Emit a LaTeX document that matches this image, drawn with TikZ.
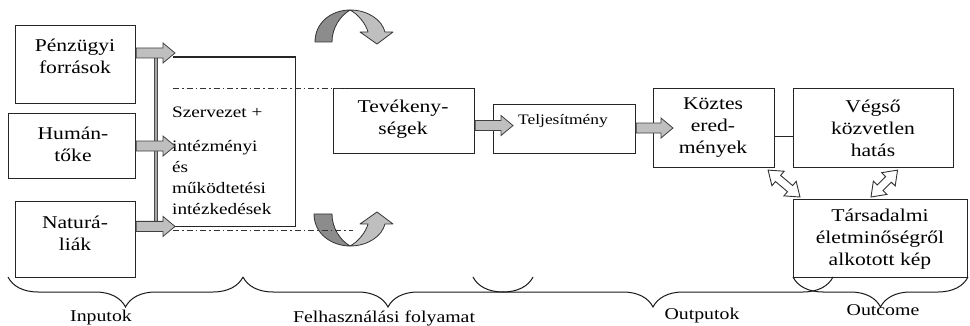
\documentclass[tikz,border=0pt]{standalone}
\usepackage{fontspec}
\setmainfont[FakeStretch=1.2]{Liberation Serif}
\usetikzlibrary{calc,decorations.pathreplacing}

% block arrow with one head, from #1 to #2
\newcommand{\blkarrow}[2]{%
  \coordinate (hb) at ($(#2)!12pt!(#1)$);
  \draw[blkarr] ($(#1)!5pt!90:(#2)$) -- ($(hb)!5pt!-90:(#1)$) -- ($(hb)!10pt!-90:(#1)$) -- (#2)
    -- ($(hb)!10pt!90:(#1)$) -- ($(hb)!5pt!90:(#1)$) -- ($(#1)!5pt!-90:(#2)$) -- cycle;}
% hollow arrow with two heads
\newcommand{\dblarrow}[2]{%
  \coordinate (ha) at ($(#1)!13pt!(#2)$);
  \coordinate (hb) at ($(#2)!13pt!(#1)$);
  \draw[dblarr] (#1) -- ($(ha)!9.5pt!90:(#2)$) -- ($(ha)!4pt!90:(#2)$) -- ($(hb)!4pt!-90:(#1)$)
    -- ($(hb)!9.5pt!-90:(#1)$) -- (#2) -- ($(hb)!9.5pt!90:(#1)$) -- ($(hb)!4pt!90:(#1)$)
    -- ($(ha)!4pt!-90:(#2)$) -- ($(ha)!9.5pt!-90:(#2)$) -- cycle;}

\begin{document}
\begin{tikzpicture}[x=1pt,y=-1pt,
    box/.style={draw=black!85, line width=1.1pt, inner sep=0pt},
    txt/.style={align=center, inner sep=0pt, font=\fontsize{18}{22}\selectfont},
    lbl/.style={inner sep=0pt, font=\fontsize{16.5}{20}\selectfont},
    blkarr/.style={draw=black!75, fill=black!25, line width=0.8pt},
    dblarr/.style={draw=black!80, fill=white, line width=0.9pt},
    bar/.style={draw=black!70, fill=black!35, line width=0.6pt},
    dashdot/.style={draw=black!80, line width=0.8pt, dash pattern=on 6pt off 3pt on 1.5pt off 3pt},
    brc/.style={draw=black!90, line width=1pt, decorate, decoration={brace, mirror, amplitude=30pt}},
    darkpart/.style={draw=black!80, fill=black!45, line width=0.8pt, line join=round},
    lightpart/.style={draw=black!80, fill=black!25, line width=0.8pt, line join=round}]

  \useasboundingbox (0,0) rectangle (970,326);

  % boxes
  \node[box, minimum width=120, minimum height=78, anchor=north west] (pf) at (15,25) {};
  \node[box, minimum width=127, minimum height=65, anchor=north west] (hum) at (8,113) {};
  \node[box, minimum width=120, minimum height=76, anchor=north west] (nat) at (15,201) {};
  \node[inner sep=0pt, minimum width=122, minimum height=169, anchor=north west] (sz) at (173,57) {};
  \node[box, minimum width=141, minimum height=65, anchor=north west] (tev) at (333,88) {};
  \node[box, minimum width=142, minimum height=49, anchor=north west] (tj) at (493,104) {};
  \node[box, minimum width=121, minimum height=79, anchor=north west] (kr) at (653,88) {};
  \node[box, minimum width=160, minimum height=79, anchor=north west] (vh) at (793,88) {};
  \node[box, minimum width=174, minimum height=78, anchor=north west] (ts) at (793,199) {};
  \draw[box] (sz.north west) -- (sz.north east) -- (sz.south east) -- (sz.south west);

  % texts
  \node[txt] (pft) at (75,56) {Pénzügyi\\források};
  \node[txt] (humt) at (73,144) {Humán-\\tőke};
  \node[txt] (natt) at (75,233) {Naturá-\\liák};
  \node[txt, align=left, anchor=north west, font=\fontsize{16}{21}\selectfont] (szt) at (172,107)
    {Szervezet +\\[13pt]intézményi\\és\\működtetési\\intézkedések};
  \node[txt] (tevt) at (403,119) {Tevékeny-\\ségek};
  \node[txt, font=\fontsize{14.5}{17}\selectfont] (tjt) at (563,121) {Teljesítmény};
  \node[txt] (krt) at (713,128) {Köztes\\ered-\\mények};
  \node[txt] (vht) at (873,128) {Végső\\közvetlen\\hatás};
  \node[txt] (tst) at (880,239) {Társadalmi\\életminőségről\\alkotott kép};

  % turning arrows
  \draw[darkpart] (315,42) .. controls (315,22) and (332,10) .. (350,10)
    .. controls (340,16) and (332,28) .. (332,42) -- cycle;
  \draw[lightpart] (350,10) .. controls (368,10) and (382,20) .. (385,32) -- (393,32) -- (377,44)
    -- (360,32) -- (368,32) .. controls (366,24) and (358,14) .. (350,10) -- cycle;
  \draw[darkpart] (314,214) .. controls (314,234) and (332,246) .. (350,246)
    .. controls (340,240) and (332,228) .. (332,214) -- cycle;
  \draw[lightpart] (350,246) .. controls (368,246) and (382,236) .. (385,224) -- (393,224) -- (377,212)
    -- (360,224) -- (368,224) .. controls (366,232) and (358,242) .. (350,246) -- cycle;

  % dash-dot lines
  \draw[dashdot] (sz.west |- tev.north) -- ([xshift=17pt]tev.north west);
  \draw[dashdot] ($(sz.south west)+(0,4)$) -- ++(180,0);

  % input arrows
  \coordinate (a1) at ($(pf.east |- sz.north)+(0,-4)$);
  \coordinate (b1) at ($(a1 -| sz.west)+(2,0)$);
  \coordinate (a2) at (hum.east);
  \coordinate (b2) at ($(a2 -| sz.west)+(2,0)$);
  \coordinate (a3) at (nat.east |- sz.south);
  \coordinate (b3) at ($(a3 -| sz.west)+(2,0)$);
  \draw[bar] ($(a1)+(18.5,-1)$) rectangle ($(a3)+(21.5,0)$);
  \blkarrow{a1}{b1}
  \blkarrow{a2}{b2}
  \blkarrow{a3}{b3}

  % process arrows
  \coordinate (a4) at ($(tev.east)+(0,4.5)$);
  \coordinate (b4) at ($(a4 -| tj.west)+(20,0)$);
  \coordinate (a5) at (tj.east |- kr.west);
  \coordinate (b5) at ($(kr.west)+(20,0)$);
  \blkarrow{a4}{b4}
  \blkarrow{a5}{b5}
  \draw[box] ($(kr.east)+(0,8.5)$) -- ($(vh.west)+(0,8.5)$);

  % links to the social picture
  \coordinate (d1) at ($(kr.south east)+(-7,2)$);
  \coordinate (e1) at ($(ts.north west)+(7,-2)$);
  \coordinate (d2) at ($(vh.south)+(24,2)$);
  \coordinate (e2) at ($(ts.north west)+(78,-2)$);
  \dblarrow{d1}{e1}
  \dblarrow{d2}{e2}

  % braces
  \draw[brc] (8,277) -- (243,277);
  \draw[brc] (243,277) -- (533,277);
  \draw[brc] (473,277) -- (833,277);
  \draw[brc] (793,277) -- (968,277);

  \node[lbl] (inp) at (101,318) {Inputok};
  \node[lbl] (fel) at (384,318) {Felhasználási folyamat};
  \node[lbl] (out) at (702,316) {Outputok};
  \node[lbl] (oc) at (883,310) {Outcome};
\end{tikzpicture}
\end{document}
